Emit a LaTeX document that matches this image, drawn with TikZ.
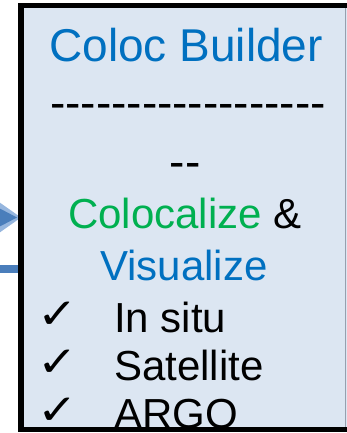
\documentclass[tikz,border=0pt]{standalone}
\usepackage{fontspec}
\usepackage{graphicx}
\usetikzlibrary{calc}
\setmainfont{Liberation Sans}
\newfontfamily\symfont{DejaVu Sans}
\definecolor{boxfill}{RGB}{220,230,242}
\definecolor{titleblue}{RGB}{0,112,192}
\definecolor{cgreen}{RGB}{0,176,80}
\definecolor{arrowblue}{RGB}{74,126,187}
\definecolor{arrowglow}{RGB}{150,182,222}
\definecolor{edgegray}{RGB}{150,160,175}

% a single hyphen kept apart from its neighbours (no -- ligature)
\newcommand\hy{\hbox{-}}
% widened check-mark bullet
\newcommand\tick{\scalebox{1.15}[1]{✓}}

\tikzset{
  bigtxt/.style={anchor=base, inner sep=0pt, font=\fontsize{46}{46}\selectfont},
  midtxt/.style={anchor=base, inner sep=0pt, font=\fontsize{42}{42}\selectfont},
  itemtxt/.style={anchor=base west, inner sep=0pt, font=\fontsize{42}{42}\selectfont},
  chk/.style={anchor=base, inner sep=0pt, font=\symfont\fontsize{42}{42}\selectfont},
  frame/.style={line width=5.5pt, black},
}

\begin{document}
\begin{tikzpicture}[x=1pt,y=-1pt]
\useasboundingbox (0,0) rectangle (347,433);
\begin{scope}
  \clip (0,0) rectangle (347,433);

  % panel background
  \fill[boxfill] (21,5.5) rectangle (360,429.5);
  \coordinate (panelW) at (21,217.5);
  \coordinate (barW) at (21,269);

  % incoming arrow head and connector bar
  \coordinate (headbase) at (-6,217.5);
  \fill[arrowglow] ($(headbase)+(0,-19)$) -- (panelW) -- ($(headbase)+(0,19)$) -- cycle;
  \fill[arrowblue] ($(headbase)+(0,-12)$) -- ($(panelW)+(-4,0)$) -- ($(headbase)+(0,12)$) -- cycle;
  \draw[arrowblue, line width=8pt] (-5,269) -- (barW);

  % text lines
  \begin{scope}
    \clip (23.5,8) rectangle (345,427);
    \node[bigtxt, text=titleblue] (title) at (186,62) {Coloc Builder};
    \node[bigtxt] (rule) at (188,118) {\hy\hy\hy\hy\hy\hy\hy\hy\hy\hy\hy\hy\hy\hy\hy\hy\hy\hy};
    \node[bigtxt] (rule2) at (185,177) {\hy\hy};
    \node[midtxt] (coloc) at (185,228) {\textcolor{cgreen}{Colocalize} \&};
    \node[midtxt, text=titleblue] (visu) at (184,280) {Visualize};
    \node[chk] (c1) at (58,328) {\tick};
    \node[itemtxt] (i1) at (114,332) {In situ};
    \node[chk] (c2) at (58,376) {\tick};
    \node[itemtxt] (i2) at (114,380) {Satellite};
    \node[chk] (c3) at (58,424) {\tick};
    \node[itemtxt] (i3) at (114,428) {ARGO};
  \end{scope}

  % panel frame
  \draw[edgegray, line width=1.5pt] (345.3,8) -- (345.3,427);
  \draw[frame] (360,5.5) -- (21,5.5) -- (21,429.5) -- (360,429.5);
\end{scope}
\end{tikzpicture}
\end{document}
